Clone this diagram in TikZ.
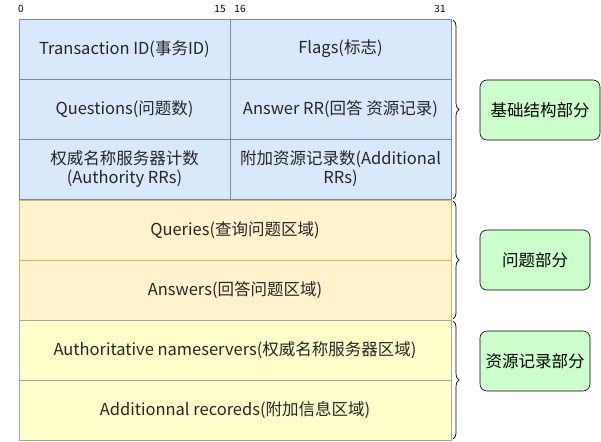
\documentclass[tikz,border=0pt]{standalone}
\usepackage{fontspec}
\setmainfont{Noto Sans CJK SC}
\usetikzlibrary{decorations.pathreplacing}
\begin{document}
\begin{tikzpicture}[x=1pt,y=-1pt,
 cellb/.style={draw={rgb,255:red,108;green,142;blue,191},fill={rgb,255:red,218;green,232;blue,252},line width=0.6pt},
 cello/.style={draw={rgb,255:red,214;green,182;blue,86},fill={rgb,255:red,255;green,242;blue,204},line width=0.6pt},
 celly/.style={draw=gray!70,fill={rgb,255:red,255;green,255;blue,204},line width=0.6pt},
 lbl/.style={font=\fontsize{16.5}{19}\selectfont,align=center,text=black!85},
 grp/.style={draw=black,fill={rgb,255:red,204;green,255;blue,204},rounded corners=7pt,line width=0.6pt,font=\fontsize{16.5}{19}\selectfont},
 num/.style={font=\fontsize{10}{11}\selectfont},
 brc/.style={decorate,decoration={brace,amplitude=6pt},line width=0.7pt}]
\useasboundingbox (0,0) rectangle (601,441);
\fill[white] (0,0) rectangle (601,441);
\node[num] (n0) at (21,9) {0};
\node[num] (n15) at (220,9) {15};
\node[num] (n16) at (240,9) {16};
\node[num] (n31) at (440,9) {31};
\draw[cellb] (19,19) rectangle (230,79);
\draw[cellb] (230,19) rectangle (451,79);
\draw[cellb] (19,79) rectangle (230,139);
\draw[cellb] (230,79) rectangle (451,139);
\draw[cellb] (19,139) rectangle (230,199);
\draw[cellb] (230,139) rectangle (451,199);
\draw[cello] (19,200) rectangle (451,260);
\draw[cello] (19,260) rectangle (451,320);
\draw[celly] (19,320) rectangle (451,380);
\draw[celly] (19,380) rectangle (451,440);
\node[lbl] (t1) at (124.5,49) {Transaction ID(事务ID)};
\node[lbl] (t2) at (340.5,49) {Flags(标志)};
\node[lbl] (t3) at (124.5,109) {Questions(问题数)};
\node[lbl] (t4) at (340.5,109) {Answer RR(回答 资源记录)};
\node[lbl] (t5) at (124.5,169) {权威名称服务器计数\\(Authority RRs)};
\node[lbl] (t6) at (340.5,169) {附加资源记录数(Additional\\RRs)};
\node[lbl] (t7) at (235,230) {Queries(查询问题区域)};
\node[lbl] (t8) at (235,290) {Answers(回答问题区域)};
\node[lbl] (t9) at (235,350) {Authoritative nameservers(权威名称服务器区域)};
\node[lbl] (t10) at (235,410) {Additionnal recoreds(附加信息区域)};
\draw[brc] (453,20) -- (453,199);
\draw[brc] (453,201) -- (453,319);
\draw[brc] (453,321) -- (453,439);
\node[grp,minimum width=120pt,minimum height=60pt] (g1) at (540,110) {基础结构部分};
\node[grp,minimum width=110pt,minimum height=60pt] (g2) at (535,260) {问题部分};
\node[grp,minimum width=110pt,minimum height=60pt] (g3) at (535,361) {资源记录部分};
\end{tikzpicture}
\end{document}
